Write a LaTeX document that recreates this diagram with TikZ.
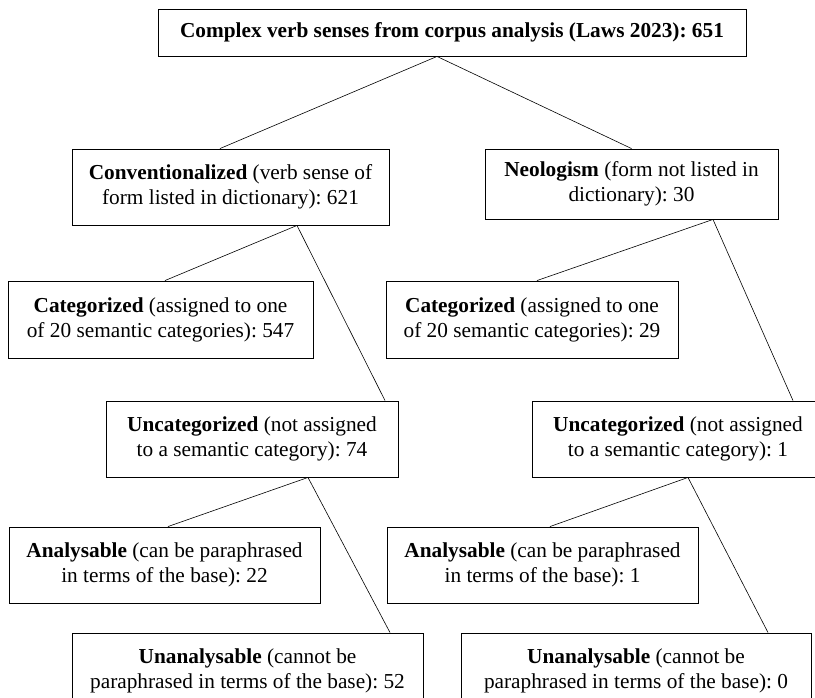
\documentclass[tikz,border=0pt]{standalone}
\usepackage{fontspec}
\setmainfont{Liberation Serif}
\frenchspacing
\tikzset{
  box/.style={draw, line width=0.9pt, align=center, inner sep=0pt,
    font=\fontsize{21.3}{25}\selectfont},
}
\begin{document}
\begin{tikzpicture}[x=1pt,y=-1pt]
      \clip (0,0) rectangle (815,698);
      \path
        (452,32.5) node[box, minimum width=588pt, minimum height=47pt] (top)
          {\textbf{Complex verb senses from corpus analysis (Laws 2023): 651}}
        (230.5,187) node[box, minimum width=317pt, minimum height=76pt] (conv)
          {\textbf{Conventionalized} (verb sense of\\form listed in dictionary): 621}
        (631.5,184) node[box, minimum width=293pt, minimum height=70pt] (neo)
          {\textbf{Neologism} (form not listed in\\dictionary): 30}
        (160.5,319.5) node[box, minimum width=305pt, minimum height=77pt] (catL)
          {\textbf{Categorized} (assigned to one\\of 20 semantic categories): 547}
        (532,319.5) node[box, minimum width=292pt, minimum height=77pt] (catR)
          {\textbf{Categorized} (assigned to one\\of 20 semantic categories): 29}
        (252,439) node[box, minimum width=292pt, minimum height=76pt] (uncL)
          {\textbf{Uncategorized} (not assigned\\to a semantic category): 74}
        (678,439) node[box, minimum width=292pt, minimum height=76pt] (uncR)
          {\textbf{Uncategorized} (not assigned\\to a semantic category): 1}
        (164.5,565) node[box, minimum width=311pt, minimum height=76pt] (anaL)
          {\textbf{Analysable} (can be paraphrased\\in terms of the base): 22}
        (542.5,565) node[box, minimum width=311pt, minimum height=76pt] (anaR)
          {\textbf{Analysable} (can be paraphrased\\in terms of the base): 1}
        (247.5,671) node[box, minimum width=351pt, minimum height=76pt] (unaL)
          {\textbf{Unanalysable} (cannot be\\paraphrased in terms of the base): 52}
        (636,671) node[box, minimum width=350pt, minimum height=76pt] (unaR)
          {\textbf{Unanalysable} (cannot be\\paraphrased in terms of the base): 0};
      \begin{scope}[line width=0.6pt]
        \draw ([xshift=-15pt]top.south) to ([xshift=-10.5pt]conv.north);
        \draw ([xshift=-15pt]top.south) to (neo.north);
        \draw ([xshift=66.5pt]conv.south) to ([xshift=4.5pt]catL.north);
        \draw ([xshift=66.5pt]conv.south) to ([xshift=133pt]uncL.north);
        \draw ([xshift=81.5pt]neo.south) to ([xshift=5pt]catR.north);
        \draw ([xshift=81.5pt]neo.south) to ([xshift=115pt]uncR.north);
        \draw ([xshift=56pt]uncL.south) to ([xshift=3.5pt]anaL.north);
        \draw ([xshift=56pt]uncL.south) to ([xshift=142.5pt]unaL.north);
        \draw ([xshift=10pt]uncR.south) to ([xshift=7.5pt]anaR.north);
        \draw ([xshift=10pt]uncR.south) to ([xshift=132pt]unaR.north);
      \end{scope}
    \end{tikzpicture}
\end{document}
